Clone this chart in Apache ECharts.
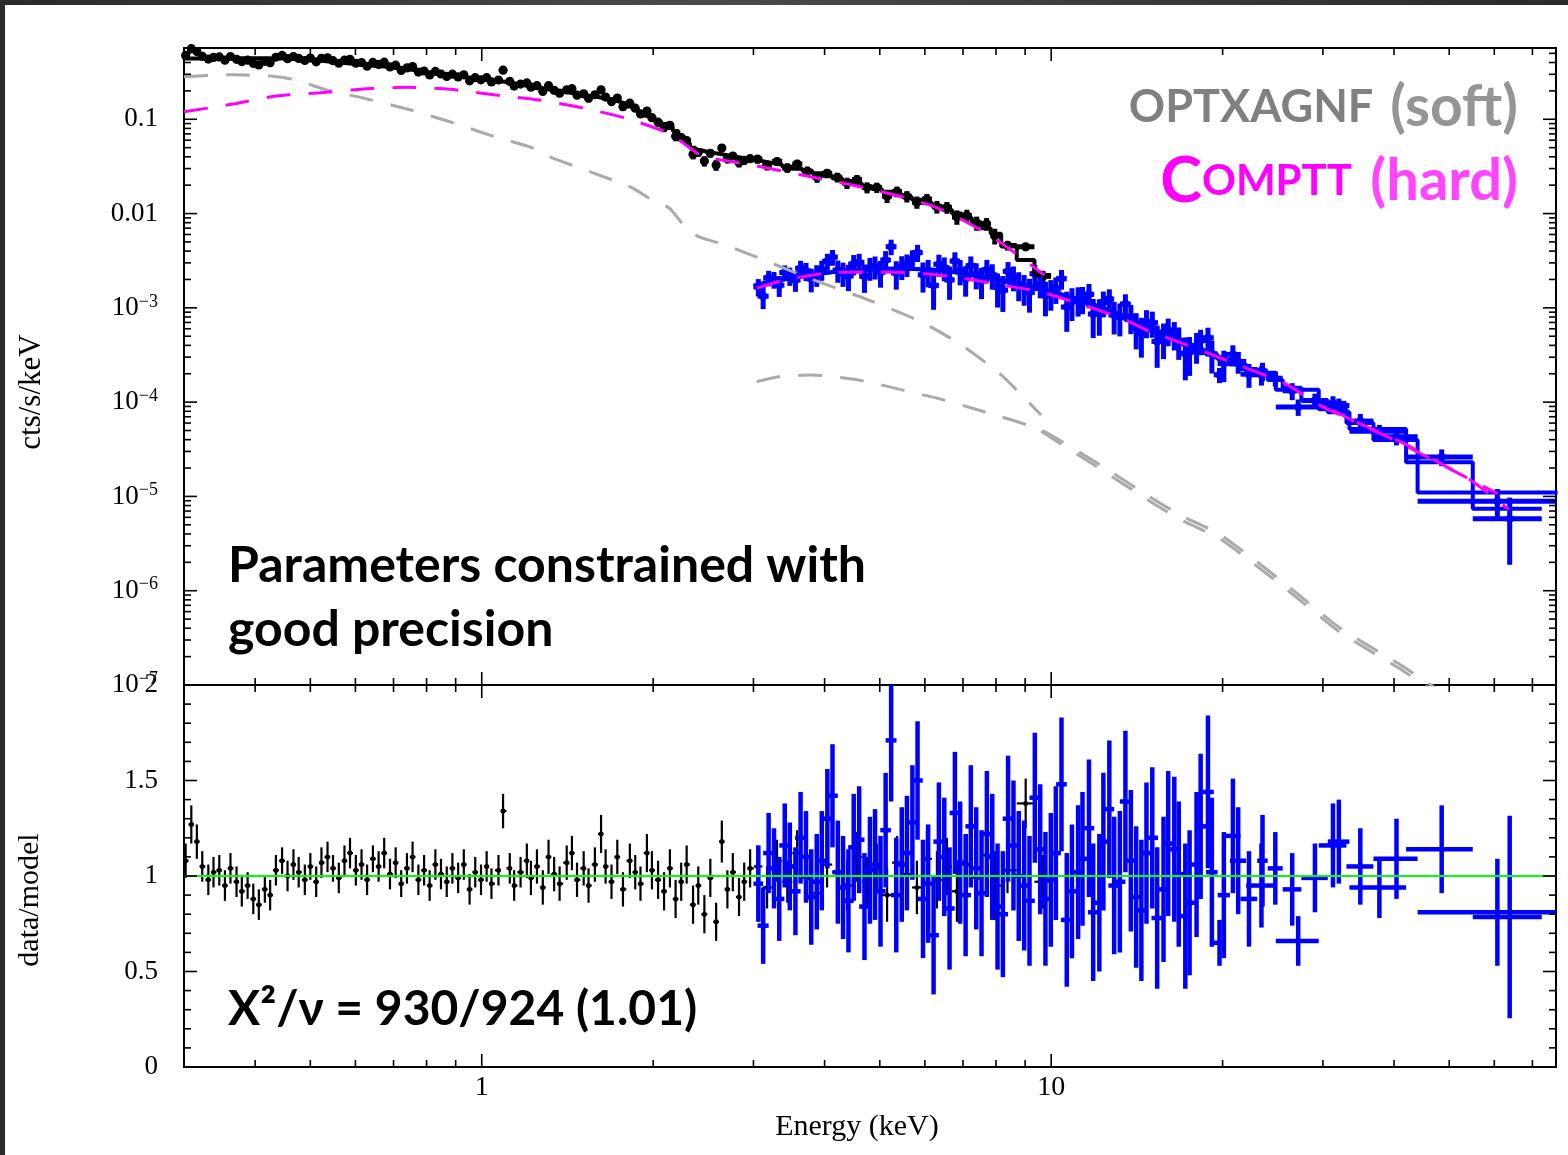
<!DOCTYPE html>
<html>
<head>
<meta charset="utf-8">
<script src="https://cdn.jsdelivr.net/npm/echarts@6/dist/echarts.min.js"></script>
<style>
  html, body { margin: 0; padding: 0; background: #fff; }
  #main { width: 1568px; height: 1155px; }
</style>
</head>
<body>
<div id="main"></div>
<script>
// soft band (black): bin centres in keV, total model per bin, data, data/model and its 1-sigma
var softE = [0.302,0.309,0.316,0.323,0.331,0.338,0.346,0.354,0.362,0.371,
  0.379,0.388,0.397,0.406,0.416,0.425,0.435,0.446,0.456,0.467,
  0.477,0.489,0.500,0.512,0.523,0.536,0.548,0.561,0.574,0.587,
  0.601,0.615,0.629,0.644,0.659,0.674,0.690,0.706,0.722,0.739,
  0.756,0.774,0.792,0.810,0.829,0.848,0.868,0.888,0.909,0.930,
  0.952,0.974,0.997,1.02,1.04,1.07,1.09,1.12,1.14,1.17,
  1.20,1.22,1.25,1.28,1.31,1.34,1.37,1.41,1.44,1.47,
  1.51,1.54,1.58,1.62,1.65,1.69,1.73,1.77,1.82,1.86,
  1.90,1.95,1.99,2.04,2.09,2.14,2.19,2.24,2.29,2.35,
  2.40,2.46,2.52,2.58,2.64,2.70,2.76,2.83,2.89,2.96,
  3.05,3.17,3.30,3.44,3.58,3.73,3.88,4.04,4.21,4.38,
  4.56,4.75,4.94,5.15,5.36,5.58,5.81,6.05,6.30,6.56,
  6.83,7.11,7.40,7.70,7.96,8.38,9.02,9.67];
var softMod = [0.440,0.441,0.442,0.443,0.444,0.444,0.445,0.445,0.445,0.445,
  0.445,0.445,0.445,0.444,0.443,0.442,0.442,0.441,0.439,0.436,
  0.433,0.429,0.425,0.420,0.414,0.408,0.402,0.397,0.392,0.387,
  0.382,0.377,0.372,0.368,0.364,0.360,0.355,0.350,0.344,0.337,
  0.330,0.323,0.316,0.310,0.304,0.299,0.294,0.289,0.284,0.279,
  0.275,0.271,0.267,0.263,0.259,0.253,0.248,0.242,0.237,0.231,
  0.225,0.221,0.216,0.211,0.206,0.201,0.197,0.192,0.188,0.184,
  0.179,0.176,0.172,0.168,0.164,0.159,0.153,0.146,0.137,0.128,
  0.119,0.109,0.101,0.095,0.089,0.083,0.075,0.066,0.056,0.050,
  0.047,0.045,0.044,0.043,0.042,0.041,0.040,0.039,0.0378,0.0367,
  0.0360,0.0345,0.0330,0.0314,0.0299,0.0284,0.0268,0.0252,0.0237,0.0222,
  0.0208,0.0195,0.0182,0.0170,0.0160,0.0150,0.0140,0.0130,0.0120,0.0110,
  0.0100,0.0090,0.0080,0.0070,0.0061,0.00446,0.00322,0.00223];
var softY = [0.475,0.560,0.522,0.465,0.435,0.453,0.458,0.423,0.463,0.432,
  0.409,0.423,0.392,0.377,0.412,0.398,0.455,0.476,0.439,0.462,
  0.442,0.420,0.446,0.407,0.443,0.449,0.418,0.393,0.423,0.433,
  0.393,0.400,0.365,0.401,0.382,0.403,0.359,0.375,0.330,0.350,
  0.363,0.317,0.325,0.295,0.322,0.302,0.285,0.301,0.281,0.296,
  0.256,0.276,0.262,0.276,0.249,0.261,0.332,0.252,0.225,0.236,
  0.243,0.219,0.227,0.198,0.227,0.203,0.189,0.205,0.211,0.180,
  0.186,0.167,0.182,0.205,0.172,0.154,0.168,0.136,0.148,0.131,
  0.114,0.122,0.104,0.0931,0.0819,0.0863,0.0660,0.0640,0.0594,0.0425,
  0.0447,0.0360,0.0436,0.0327,0.0496,0.0381,0.0408,0.0347,0.0367,0.0382,
  0.0378,0.0324,0.0356,0.0305,0.0335,0.0281,0.0244,0.0267,0.0242,0.0211,
  0.0229,0.0189,0.0189,0.0153,0.0171,0.0152,0.0132,0.0142,0.0118,0.0116,
  0.0092,0.00954,0.00792,0.00777,0.00580,0.00459,0.00444,0.00216];
var softRatio = [1.08,1.27,1.18,1.05,0.98,1.02,1.03,0.95,1.04,0.97,
  0.92,0.95,0.88,0.85,0.93,0.90,1.03,1.08,1.00,1.06,
  1.02,0.98,1.05,0.97,1.07,1.10,1.04,0.99,1.08,1.12,
  1.03,1.06,0.98,1.09,1.05,1.12,1.01,1.07,0.96,1.04,
  1.10,0.98,1.03,0.95,1.06,1.01,0.97,1.04,0.99,1.06,
  0.93,1.02,0.98,1.05,0.96,1.03,1.34,1.04,0.95,1.02,
  1.08,0.99,1.05,0.94,1.10,1.01,0.96,1.07,1.12,0.98,
  1.04,0.95,1.06,1.22,1.05,0.97,1.10,0.93,1.08,1.02,
  0.96,1.12,1.03,0.98,0.92,1.04,0.88,0.97,1.06,0.85,
  0.95,0.80,0.99,0.76,1.18,0.93,1.02,0.89,0.97,1.04,
  1.05,0.94,1.08,0.97,1.12,0.99,0.91,1.06,1.02,0.95,
  1.10,0.97,1.04,0.90,1.07,1.01,0.94,1.09,0.98,1.05,
  0.92,1.06,0.99,1.11,0.95,1.03,1.38,0.97];
var softErr = [0.09,0.10,0.09,0.08,0.08,0.08,0.08,0.08,0.08,0.08,
  0.08,0.07,0.08,0.08,0.07,0.08,0.08,0.07,0.08,0.08,
  0.08,0.08,0.07,0.08,0.08,0.08,0.07,0.08,0.08,0.08,
  0.08,0.08,0.08,0.07,0.08,0.08,0.08,0.08,0.07,0.08,
  0.08,0.08,0.08,0.08,0.08,0.08,0.08,0.08,0.08,0.08,
  0.08,0.08,0.08,0.08,0.08,0.08,0.09,0.08,0.08,0.08,
  0.09,0.09,0.09,0.09,0.09,0.09,0.09,0.09,0.09,0.09,
  0.09,0.09,0.09,0.10,0.09,0.09,0.09,0.09,0.09,0.09,
  0.09,0.10,0.10,0.10,0.10,0.10,0.10,0.10,0.10,0.10,
  0.10,0.10,0.10,0.10,0.11,0.10,0.10,0.10,0.10,0.10,
  0.11,0.11,0.11,0.11,0.12,0.12,0.12,0.12,0.12,0.13,
  0.13,0.13,0.13,0.14,0.14,0.14,0.14,0.15,0.15,0.15,
  0.16,0.16,0.17,0.17,0.18,0.12,0.13,0.14];

// hard band (blue), two modules with their own channel edges in keV
var fpmaEdges = [3.00,3.12,3.26,3.40,3.55,3.71,3.87,4.04,4.22,4.40,
  4.60,4.80,5.01,5.23,5.46,5.70,5.95,6.21,6.49,6.77,
  7.07,7.38,7.71,8.05,8.40,8.77,9.16,9.56,9.98,10.4,
  10.9,11.4,11.9,12.4,12.9,13.5,14.1,14.7,15.4,16.1,
  16.8,17.6,18.4,19.3,20.2,21.5,23.0,24.0,25.5,27.5,
  30.6,33.4,42.0,55.0,72.7];
var fpmaMod = [1.74e-3,1.86e-3,1.98e-3,2.09e-3,2.19e-3,2.28e-3,2.36e-3,2.43e-3,2.49e-3,2.54e-3,
  2.57e-3,2.59e-3,2.60e-3,2.60e-3,2.59e-3,2.57e-3,2.54e-3,2.46e-3,2.39e-3,2.31e-3,
  2.22e-3,2.13e-3,2.03e-3,1.93e-3,1.83e-3,1.73e-3,1.63e-3,1.53e-3,1.43e-3,1.32e-3,
  1.21e-3,1.11e-3,1.01e-3,9.2e-4,8.3e-4,7.4e-4,6.6e-4,5.8e-4,5.2e-4,4.65e-4,
  4.15e-4,3.75e-4,3.35e-4,3.0e-4,2.65e-4,2.25e-4,1.98e-4,1.72e-4,1.42e-4,1.05e-4,
  7.8e-5,5.2e-5,2.3e-5,7.4e-6];
var fpmaY = [1.67e-3,2.08e-3,1.74e-3,2.19e-3,2.63e-3,2.03e-3,2.55e-3,3.45e-3,2.34e-3,2.92e-3,
  2.16e-3,2.75e-3,3.22e-3,2.34e-3,2.90e-3,3.86e-3,2.44e-3,2.90e-3,1.98e-3,2.47e-3,
  2.80e-3,1.94e-3,2.23e-3,1.54e-3,2.12e-3,1.64e-3,2.30e-3,1.35e-3,1.60e-3,1.02e-3,
  1.23e-3,1.39e-3,8.7e-4,1.24e-3,8.05e-4,8.0e-4,5.4e-4,6.96e-4,4.84e-4,5.3e-4,
  3.28e-4,3.98e-4,4.82e-4,1.95e-4,3.21e-4,1.98e-4,2.14e-4,1.79e-4,1.32e-4,1.04e-4,
  9.2e-5,4.9e-5,2.62e-5,5.8e-6];
var fpmaRatio = [0.96,1.12,0.88,1.05,1.20,0.89,1.08,1.42,0.94,1.15,
  0.84,1.06,1.24,0.90,1.12,1.50,0.96,1.18,0.83,1.07,
  1.26,0.91,1.10,0.80,1.16,0.95,1.41,0.88,1.12,0.77,
  1.02,1.25,0.86,1.35,0.97,1.08,0.82,1.20,0.93,1.14,
  0.79,1.06,1.44,0.65,1.21,0.88,1.08,1.04,0.93,0.99,
  1.18,0.94,1.14,0.785];
var fpmaErr = [0.20,0.21,0.22,0.23,0.24,0.25,0.26,0.27,0.27,0.28,
  0.28,0.29,0.30,0.30,0.30,0.31,0.31,0.31,0.32,0.32,
  0.32,0.33,0.33,0.33,0.34,0.34,0.34,0.35,0.35,0.35,
  0.35,0.36,0.36,0.36,0.37,0.37,0.37,0.37,0.38,0.38,
  0.38,0.38,0.40,0.12,0.30,0.25,0.24,0.19,0.19,0.18,
  0.22,0.16,0.23,0.53];

var fpmbEdges = [3.05,3.19,3.33,3.48,3.63,3.79,3.96,4.13,4.31,4.50,
  4.70,4.91,5.12,5.35,5.58,5.83,6.08,6.35,6.63,6.92,
  7.23,7.54,7.88,8.22,8.58,8.96,9.36,9.77,10.2,10.65,
  11.1,11.6,12.1,12.6,13.2,13.8,14.4,15.0,15.7,16.4,
  17.1,17.9,18.7,19.6,20.6,22.0,24.8,29.5,33.0,36.8,
  44.0,77.5];
var fpmbMod = [1.80e-3,1.92e-3,2.04e-3,2.14e-3,2.24e-3,2.32e-3,2.40e-3,2.46e-3,2.51e-3,2.55e-3,
  2.58e-3,2.60e-3,2.60e-3,2.59e-3,2.58e-3,2.55e-3,2.51e-3,2.43e-3,2.35e-3,2.27e-3,
  2.18e-3,2.08e-3,1.98e-3,1.88e-3,1.78e-3,1.68e-3,1.58e-3,1.48e-3,1.38e-3,1.27e-3,
  1.16e-3,1.06e-3,9.7e-4,8.8e-4,7.9e-4,7.0e-4,6.3e-4,5.6e-4,4.95e-4,4.45e-4,
  3.95e-4,3.55e-4,3.2e-4,2.85e-4,2.5e-4,2.05e-4,1.35e-4,8.4e-5,6.0e-5,3.96e-5,
  1.1e-5];
var fpmbY = [1.33e-3,2.00e-3,2.37e-3,1.97e-3,2.46e-3,2.25e-3,3.12e-3,2.51e-3,2.18e-3,3.03e-3,
  2.66e-3,2.39e-3,4.45e-3,2.75e-3,3.30e-3,2.24e-3,1.73e-3,2.67e-3,3.13e-3,2.04e-3,
  2.27e-3,2.54e-3,1.66e-3,2.44e-3,1.78e-3,1.46e-3,1.80e-3,1.45e-3,2.04e-3,1.17e-3,
  1.26e-3,8.6e-4,1.14e-3,8.4e-4,1.10e-3,6.2e-4,7.1e-4,4.4e-4,5.8e-4,4.5e-4,
  3.4e-4,4.5e-4,3.26e-4,2.57e-4,2.7e-4,1.95e-4,8.9e-5,9.7e-5,6.3e-5,4.3e-5,
  8.9e-6];
var fpmbRatio = [0.74,1.04,1.16,0.92,1.10,0.97,1.30,1.02,0.87,1.19,
  1.03,0.92,1.71,1.06,1.28,0.88,0.69,1.10,1.33,0.90,
  1.04,1.22,0.84,1.30,1.00,0.87,1.14,0.98,1.48,0.92,
  1.09,0.81,1.18,0.95,1.39,0.89,1.12,0.78,1.17,1.01,
  0.86,1.26,1.02,0.90,1.08,0.95,0.66,1.16,1.05,1.09,
  0.81];
var fpmbErr = [0.20,0.21,0.22,0.23,0.24,0.25,0.26,0.27,0.27,0.28,
  0.28,0.29,0.32,0.30,0.30,0.31,0.31,0.31,0.32,0.32,
  0.32,0.33,0.33,0.33,0.34,0.34,0.34,0.35,0.35,0.35,
  0.35,0.36,0.36,0.36,0.37,0.37,0.37,0.37,0.38,0.38,
  0.38,0.38,0.39,0.33,0.28,0.22,0.13,0.22,0.20,0.21,
  0.28];

// model components (dashed)
var softOptxE = [0.30,0.366,0.436,0.472,0.533,0.619,0.748,0.879,1.033,1.228,1.315,1.696,1.838,1.993,2.134,2.277,2.408,2.675,3.194,3.753,4.78,5.92,6.96,8.17,9.6];
var softOptxV = [0.283,0.297,0.283,0.261,0.205,0.168,0.126,0.094,0.068,0.0497,0.0401,0.0227,0.0187,0.0139,0.01146,0.00721,0.00565,0.00465,0.00306,0.00207,0.00121,7.08e-4,4.04e-4,1.94e-4,7.3e-5];
var softComptE = [0.30,0.366,0.436,0.520,0.619,0.736,0.879,1.058,1.263,1.503,1.787,2.10,2.22,2.44,2.98,3.65,4.47,5.46,6.24,7.15,8.17,9.72];
var softComptV = [0.120,0.145,0.177,0.191,0.210,0.218,0.208,0.181,0.160,0.132,0.103,0.0738,0.0604,0.0408,0.0327,0.0256,0.0201,0.0151,0.0118,0.00794,0.00488,0.00223];
var hardOptxE = [3.04,3.32,3.80,4.59,5.47,6.49,7.63,9.6,12.2,14.9,17.1,19.6,22.4,26.2,32.2,41.1,46.4,50];
var hardOptxV = [1.65e-4,1.86e-4,1.94e-4,1.72e-4,1.35e-4,1.05e-4,7.9e-5,5.06e-5,2.15e-5,9.9e-6,6.05e-6,4.1e-6,2.28e-6,1.09e-6,4.0e-7,1.63e-7,1.0e-7,7.0e-8];
var hardOptxBE = [9.6,12.2,14.9,17.1,19.6,22.4,26.2,32.2,41.1,46.4];
var hardOptxBV = [4.9e-5,1.95e-5,8.9e-6,5.45e-6,3.7e-6,2.05e-6,9.8e-7,3.6e-7,1.47e-7,9.0e-8];
var hardComptE = [3.04,3.41,4.07,4.78,5.76,6.77,8.17,9.6,11.4,13.4,14.9,17.8,21.2,25.6,30.0,35.9,42.1,48.8,54.5,63.6];
var hardComptV = [1.62e-3,1.98e-3,2.35e-3,2.40e-3,2.35e-3,2.13e-3,1.75e-3,1.47e-3,1.07e-3,7.6e-4,5.6e-4,3.8e-4,2.5e-4,1.60e-4,8.9e-5,5.45e-5,3.52e-5,2.16e-5,1.49e-5,7.3e-6];
var hardComptBE = [31.25,34.9,40.4,60.75];
var hardComptBV = [8.2e-5,5.8e-5,3.85e-5,1.07e-5];

// axes
var xRange = [0.3, 77];
var topRange = [1e-7, 0.57];
var ratioRange = [0, 2];
var unityLevel = 1;
var xMajorTicks = [1, 10];
var xMinorTicks = [0.4,0.5,0.6,0.7,0.8,0.9,2,3,4,5,6,7,8,9,20,30,40,50,60,70];
var topMajorTicks = [1e-7,1e-6,1e-5,1e-4,1e-3,1e-2,1e-1];
var decadeSteps = [2,3,4,5,6,7,8,9];
var ratioMajorTicks = [0,0.5,1,1.5,2];
var ratioMinorTicks = [0.1,0.2,0.3,0.4,0.6,0.7,0.8,0.9,1.1,1.2,1.3,1.4,1.6,1.7,1.8,1.9];

var topMinorTicks = [];
topMajorTicks.forEach(function (d) {
  decadeSteps.forEach(function (m) { if (m * d < topRange[1]) topMinorTicks.push(m * d); });
});

function binsFromCenters(c) {
  var n = c.length, lo = [], hi = [];
  for (var i = 0; i < n; i++) {
    lo.push(i > 0 ? (c[i - 1] + c[i]) / 2 : c[0] - (c[1] - c[0]) / 2);
    hi.push(i < n - 1 ? (c[i] + c[i + 1]) / 2 : c[n - 1] + (c[n - 1] - c[n - 2]) / 2);
  }
  return {c: c, lo: lo, hi: hi};
}
function binsFromEdges(e) {
  var lo = [], hi = [], c = [];
  for (var i = 0; i < e.length - 1; i++) {
    lo.push(e[i]); hi.push(e[i + 1]); c.push((e[i] + e[i + 1]) / 2);
  }
  return {c: c, lo: lo, hi: hi};
}
function crossRows(b, y, err) {
  return b.c.map(function (c, i) { return [c, b.lo[i], b.hi[i], y[i], err[i]]; });
}
function relErr(y, r, e) {
  return y.map(function (v, i) { return v * e[i] / r[i]; });
}
function stepRows(b, m) {
  var out = [];
  for (var i = 0; i < b.c.length; i++) { out.push([b.lo[i], m[i]], [b.hi[i], m[i]]); }
  return out;
}
function pairRows(xs, ys) {
  return xs.map(function (x, i) { return [x, ys[i]]; });
}

var softBins = binsFromCenters(softE);
var fpmaBins = binsFromEdges(fpmaEdges);
var fpmbBins = binsFromEdges(fpmbEdges);

function crossSeries(gi, rows, color, width, dot) {
  return {
    type: 'custom', xAxisIndex: gi, yAxisIndex: gi, data: rows,
    silent: true, animation: false, encode: {x: 0, y: 3},
    renderItem: function (params, api) {
      var cs = params.coordSys;
      var left = cs.x, right = cs.x + cs.width, top = cs.y, bottom = cs.y + cs.height;
      var c = api.value(0), lo = api.value(1), hi = api.value(2), y = api.value(3), e = api.value(4);
      var a = api.coord([lo, y]), b = api.coord([hi, y]);
      var t = api.coord([c, y + e]), u = api.coord([c, Math.max(y - e, 1e-12)]);
      var cx = function (v) { return Math.min(right, Math.max(left, v)); };
      var cy = function (v) { return Math.min(bottom, Math.max(top, v)); };
      var kids = [
        {type: 'line', shape: {x1: cx(a[0]), y1: a[1], x2: cx(b[0]), y2: b[1]}, style: {stroke: color, lineWidth: width}},
        {type: 'line', shape: {x1: t[0], y1: cy(t[1]), x2: u[0], y2: cy(u[1])}, style: {stroke: color, lineWidth: width}}
      ];
      if (dot) kids.push({type: 'circle', shape: {cx: t[0], cy: a[1], r: dot}, style: {fill: color}});
      return {type: 'group', children: kids};
    }
  };
}

function tickSeries(gi, xRef, yRef, yMaj, yMin) {
  var rows = [];
  xMajorTicks.forEach(function (v) { rows.push([v, yRef, 13, 0]); });
  xMinorTicks.forEach(function (v) { rows.push([v, yRef, 7, 0]); });
  yMaj.forEach(function (v) { rows.push([xRef, v, 13, 1]); });
  yMin.forEach(function (v) { rows.push([xRef, v, 7, 1]); });
  return {
    type: 'custom', xAxisIndex: gi, yAxisIndex: gi, data: rows,
    silent: true, animation: false, z: 6, encode: {x: 0, y: 1},
    renderItem: function (params, api) {
      var cs = params.coordSys;
      var p = api.coord([api.value(0), api.value(1)]), len = api.value(2);
      var s1 = {stroke: '#000', lineWidth: 1.6}, s2 = {stroke: '#000', lineWidth: 1.6};
      if (api.value(3)) {
        return {type: 'group', children: [
          {type: 'line', shape: {x1: cs.x, y1: p[1], x2: cs.x + len, y2: p[1]}, style: s1},
          {type: 'line', shape: {x1: cs.x + cs.width - len, y1: p[1], x2: cs.x + cs.width, y2: p[1]}, style: s2}
        ]};
      }
      return {type: 'group', children: [
        {type: 'line', shape: {x1: p[0], y1: cs.y, x2: p[0], y2: cs.y + len}, style: s1},
        {type: 'line', shape: {x1: p[0], y1: cs.y + cs.height - len, x2: p[0], y2: cs.y + cs.height}, style: s2}
      ]};
    }
  };
}

function stepSeries(rows, color, width) {
  return {type: 'line', xAxisIndex: 0, yAxisIndex: 0, data: rows, symbol: 'none',
    silent: true, animation: false, lineStyle: {color: color, width: width}};
}
function dashSeries(xs, ys, color) {
  return {type: 'line', xAxisIndex: 0, yAxisIndex: 0, data: pairRows(xs, ys), symbol: 'none',
    smooth: 0.2, silent: true, animation: false, z: 4,
    lineStyle: {color: color, width: 3, type: [24, 18]}};
}

var serif = 'Liberation Serif';
var lato = 'Lato';

var chart = echarts.init(document.getElementById('main'));
chart.setOption({
  animation: false,
  backgroundColor: '#fff',
  grid: [
    {left: 184, top: 48, width: 1372, height: 637, show: true, borderColor: '#000', borderWidth: 2, backgroundColor: 'transparent'},
    {left: 184, top: 685, width: 1372, height: 382, show: true, borderColor: '#000', borderWidth: 2, backgroundColor: 'transparent'}
  ],
  xAxis: [
    {type: 'log', gridIndex: 0, min: xRange[0], max: xRange[1],
      axisLine: {show: false}, axisTick: {show: false}, splitLine: {show: false}, axisLabel: {show: false}},
    {type: 'log', gridIndex: 1, min: xRange[0], max: xRange[1],
      axisLine: {show: false}, axisTick: {show: false}, splitLine: {show: false},
      axisLabel: {margin: 7, fontFamily: serif, fontSize: 28, color: '#000',
        formatter: function (v) {
          var k = Math.log10(v);
          return Math.abs(k - Math.round(k)) < 1e-6 ? String(Math.round(v)) : '';
        }}}
  ],
  yAxis: [
    {type: 'log', gridIndex: 0, min: topRange[0], max: topRange[1],
      axisLine: {show: false}, axisTick: {show: false}, splitLine: {show: false},
      axisLabel: {margin: 26, fontFamily: serif, fontSize: 27, color: '#000', showMaxLabel: false,
        formatter: function (v) {
          var l = Math.log10(v), k = Math.round(l);
          if (Math.abs(l - k) > 1e-6) return '';
          if (k === -1) return '0.1';
          if (k === -2) return '0.01';
          return '{m|10}{s|\u2212' + (-k) + '}';
        },
        rich: {
          m: {fontFamily: serif, fontSize: 27, lineHeight: 30, color: '#000'},
          s: {fontFamily: serif, fontSize: 18, lineHeight: 18, verticalAlign: 'top', color: '#000'}
        }}},
    {type: 'value', gridIndex: 1, min: ratioRange[0], max: ratioRange[1], interval: 0.5,
      axisLine: {show: false}, axisTick: {show: false}, splitLine: {show: false},
      axisLabel: {margin: 26, fontFamily: serif, fontSize: 27, color: '#000'}}
  ],
  series: [
    // upper panel
    crossSeries(0, crossRows(softBins, softY, relErr(softY, softRatio, softErr)), '#000', 5, 4.6),
    crossSeries(0, crossRows(fpmaBins, fpmaY, relErr(fpmaY, fpmaRatio, fpmaErr)), '#0000ff', 5, 4),
    crossSeries(0, crossRows(fpmbBins, fpmbY, relErr(fpmbY, fpmbRatio, fpmbErr)), '#0000ff', 5, 4),
    stepSeries(stepRows(softBins, softMod), '#000', 4),
    stepSeries(stepRows(fpmaBins, fpmaMod), '#0000ff', 4),
    stepSeries(stepRows(fpmbBins, fpmbMod), '#0000ff', 4),
    dashSeries(softOptxE, softOptxV, '#aaaaaa'),
    dashSeries(hardOptxE, hardOptxV, '#aaaaaa'),
    dashSeries(hardOptxBE, hardOptxBV, '#aaaaaa'),
    dashSeries(softComptE, softComptV, '#ff00ff'),
    dashSeries(hardComptE, hardComptV, '#ff00ff'),
    dashSeries(hardComptBE, hardComptBV, '#ff00ff'),
    tickSeries(0, 1, 0.01, topMajorTicks, topMinorTicks),
    // lower panel
    crossSeries(1, crossRows(softBins, softRatio, softErr), '#000', 2.2, 2.5),
    crossSeries(1, crossRows(fpmaBins, fpmaRatio, fpmaErr), '#0000ff', 4.5, 0),
    crossSeries(1, crossRows(fpmbBins, fpmbRatio, fpmbErr), '#0000ff', 4.5, 0),
    {type: 'line', xAxisIndex: 1, yAxisIndex: 1, data: [[xRange[0], unityLevel], [xRange[1], unityLevel]],
      symbol: 'none', silent: true, animation: false, z: 5, lineStyle: {color: '#00ff00', width: 2}},
    tickSeries(1, 1, 1, ratioMajorTicks, ratioMinorTicks)
  ],
  graphic: [
    {type: 'rect', silent: true, shape: {x: 0, y: 0, width: 1568, height: 5},
      style: {fill: new echarts.graphic.LinearGradient(0, 0, 1, 0, [
        {offset: 0, color: '#2a2a2a'}, {offset: 0.45, color: '#4a4a4a'}, {offset: 1, color: '#2a2a2a'}])}},
    {type: 'rect', silent: true, shape: {x: 0, y: 0, width: 5, height: 1155}, style: {fill: '#2b2b2b'}},
    {type: 'text', silent: true, x: 32, y: 392, rotation: Math.PI / 2,
      style: {text: 'cts/s/keV', fontFamily: serif, fontSize: 31, fill: '#000',
        align: 'center', verticalAlign: 'middle', textAlign: 'center', textVerticalAlign: 'middle'}},
    {type: 'text', silent: true, x: 30, y: 900, rotation: Math.PI / 2,
      style: {text: 'data/model', fontFamily: serif, fontSize: 30, fill: '#000',
        align: 'center', verticalAlign: 'middle', textAlign: 'center', textVerticalAlign: 'middle'}},
    {type: 'text', silent: true, x: 857, y: 1127,
      style: {text: 'Energy (keV)', fontFamily: serif, fontSize: 30, fill: '#000',
        align: 'center', verticalAlign: 'middle', textAlign: 'center', textVerticalAlign: 'middle'}},
    {type: 'text', silent: true, x: 1518, y: 136,
      style: {text: '{a|OPTXAGNF}{g| }{b|(soft)}', fontFamily: lato, fontWeight: 'bold', fontSize: 50,
        align: 'right', verticalAlign: 'bottom', textAlign: 'right', textVerticalAlign: 'bottom',
        rich: {
          a: {fontFamily: lato, fontWeight: 'bold', fontSize: 45, fill: '#808080', color: '#808080'},
          g: {fontFamily: lato, fontWeight: 'bold', fontSize: 70, lineHeight: 10},
          b: {fontFamily: lato, fontWeight: 'bold', fontSize: 57, fill: '#959595', color: '#959595'}
        }}},
    {type: 'text', silent: true, x: 1518, y: 213,
      style: {text: '{c|C}{d|OMPTT}{g| }{e|(hard)}', fontFamily: lato, fontWeight: 'bold', fontSize: 50,
        align: 'right', verticalAlign: 'bottom', textAlign: 'right', textVerticalAlign: 'bottom',
        rich: {
          c: {fontFamily: lato, fontWeight: 'bold', fontSize: 63, fill: '#ff00ff', color: '#ff00ff'},
          d: {fontFamily: lato, fontWeight: 'bold', fontSize: 42, fill: '#ff00ff', color: '#ff00ff'},
          g: {fontFamily: lato, fontWeight: 'bold', fontSize: 75, lineHeight: 10},
          e: {fontFamily: lato, fontWeight: 'bold', fontSize: 58, fill: '#ff45ff', color: '#ff45ff'}
        }}},
    {type: 'text', silent: true, x: 228, y: 534,
      style: {text: 'Parameters constrained with\ngood precision', fontFamily: lato, fontWeight: 'bold',
        fontSize: 50, lineHeight: 64, fill: '#000',
        align: 'left', verticalAlign: 'top', textAlign: 'left', textVerticalAlign: 'top'}},
    {type: 'text', silent: true, x: 228, y: 986,
      style: {text: 'X\u00b2/\u03bd = 930/924 (1.01)', fontFamily: lato, fontWeight: 'bold',
        fontSize: 48, fill: '#000',
        align: 'left', verticalAlign: 'top', textAlign: 'left', textVerticalAlign: 'top'}}
  ]
});
</script>
</body>
</html>
